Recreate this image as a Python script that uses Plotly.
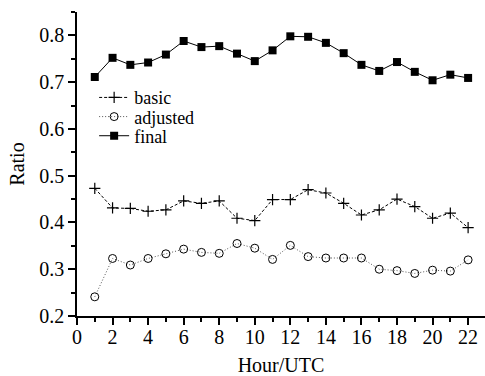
import plotly.graph_objects as go

hours = list(range(1, 23))
basic = [0.473, 0.431, 0.430, 0.424, 0.427, 0.446, 0.441, 0.446, 0.409, 0.404, 0.449,
         0.449, 0.470, 0.463, 0.441, 0.416, 0.427, 0.450, 0.434, 0.409, 0.420, 0.389]
adjusted = [0.241, 0.323, 0.309, 0.323, 0.333, 0.343, 0.336, 0.334, 0.355, 0.345, 0.321,
            0.351, 0.327, 0.324, 0.324, 0.324, 0.300, 0.297, 0.291, 0.298, 0.296, 0.320]
final = [0.711, 0.752, 0.737, 0.742, 0.759, 0.788, 0.775, 0.777, 0.761, 0.745, 0.768,
         0.798, 0.797, 0.784, 0.762, 0.737, 0.724, 0.743, 0.722, 0.704, 0.716, 0.709]

font = "Liberation Serif"

fig = go.Figure()
fig.add_trace(go.Scatter(x=hours, y=basic, name="basic", mode="lines+markers", legend="legend",
                         line=dict(color="black", width=1, dash="3px,2px"),
                         marker=dict(symbol="cross-thin", size=8, color="black",
                                     line=dict(color="black", width=1.2))))
fig.add_trace(go.Scatter(x=hours, y=adjusted, name="adjusted", mode="lines+markers", legend="legend2",
                         line=dict(color="#555", width=1, dash="1px,2px"),
                         marker=dict(symbol="circle-open", size=8, color="black",
                                     line=dict(color="black", width=1))))
fig.add_trace(go.Scatter(x=hours, y=final, name="final", mode="lines+markers", legend="legend3",
                         line=dict(color="black", width=1),
                         marker=dict(symbol="square", size=8, color="black")))

axis_common = dict(showline=True, linecolor="black", linewidth=1.5,
                   ticks="outside", ticklen=7, tickwidth=1.5, tickcolor="black",
                   showgrid=False, zeroline=False, automargin=False,
                   tickfont=dict(family=font, size=20, color="black"))

leg = dict(x=0.042, xanchor="left", yanchor="middle", bgcolor="rgba(0,0,0,0)",
           font=dict(family=font, size=18, color="black"), itemwidth=30,
           borderwidth=0)

fig.update_layout(
    width=485, height=376,
    margin=dict(l=77, r=0, t=12, b=60),
    paper_bgcolor="white", plot_bgcolor="white",
    font=dict(family=font, size=20, color="black"),
    showlegend=True,
    legend=dict(y=0.718, **leg),
    legend2=dict(y=0.655, **leg),
    legend3=dict(y=0.592, **leg),
    xaxis=dict(range=[0, 22.95], tickvals=list(range(0, 23, 2)),
               ticklabelstandoff=-5,
               minor=dict(dtick=1, ticks="outside", ticklen=4, tickcolor="black", tickwidth=1.5),
               title=dict(text="Hour/UTC", standoff=14, font=dict(family=font, size=20)),
               **axis_common),
    yaxis=dict(range=[0.2, 0.85], tickvals=[0.2, 0.3, 0.4, 0.5, 0.6, 0.7, 0.8],
               ticktext=["0.2", "0.3", "0.4", "0.5", "0.6", "0.7", "0.8"],
               minor=dict(dtick=0.05, ticks="outside", ticklen=4, tickcolor="black", tickwidth=1.5),
               title=dict(text="Ratio", standoff=9, font=dict(family=font, size=20)),
               **axis_common),
)

fig.write_html("out.html", config={"displayModeBar": False},
               post_script="document.body.style.margin='0';document.body.style.padding='0';")
